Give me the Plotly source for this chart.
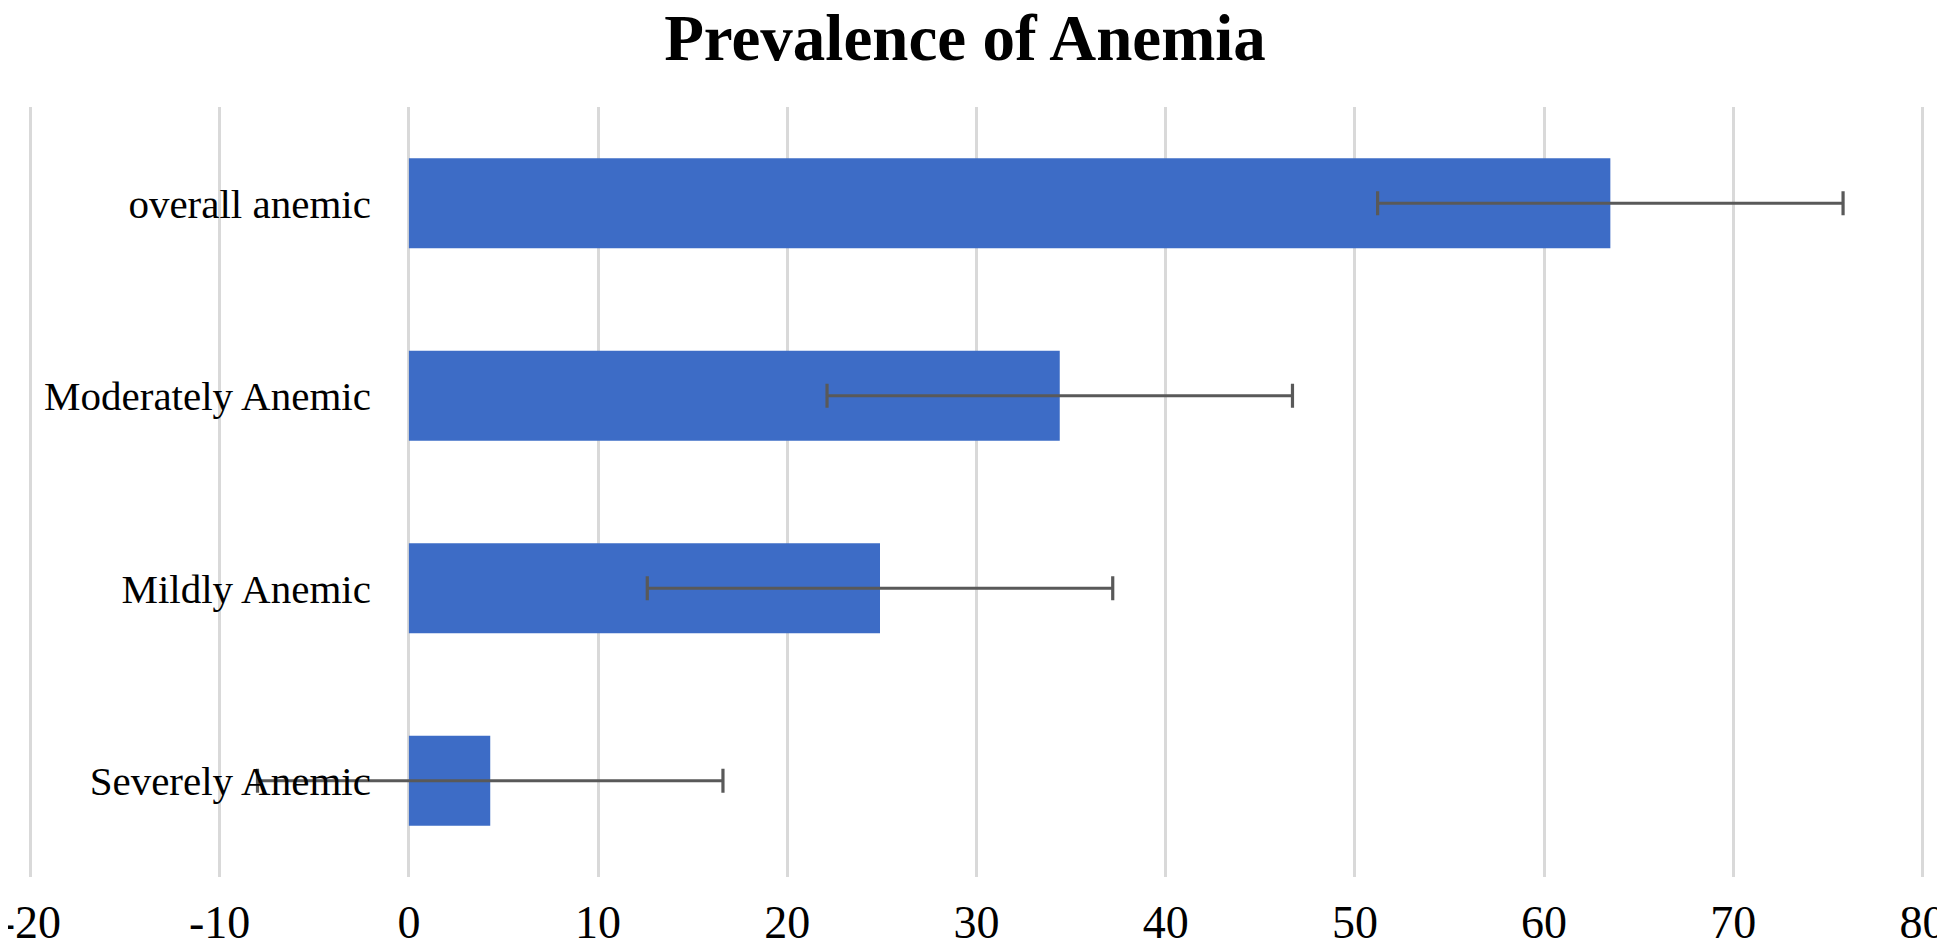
import plotly.graph_objects as go

categories = ["Severely Anemic", "Mildly Anemic", "Moderately Anemic", "overall anemic"]
prevalence = [4.3, 24.9, 34.4, 63.5]
error_margin = [12.3, 12.3, 12.3, 12.3]
x_ticks = [-20, -10, 0, 10, 20, 30, 40, 50, 60, 70, 80]

FONT = "Liberation Serif, Times New Roman, serif"

# The page body adds an 8px margin, so the figure is sized to fill the window exactly.
W, H = 1937, 942

fig = go.Figure()
fig.add_trace(go.Bar(
    y=categories,
    x=prevalence,
    orientation="h",
    marker=dict(color="#3d6cc6", line=dict(width=0)),
    error_x=dict(type="data", array=error_margin, visible=True,
                 color="#595959", thickness=3.2, width=12),
    hoverinfo="x+y",
))

fig.update_layout(
    width=W, height=H,
    paper_bgcolor="white", plot_bgcolor="white",
    margin=dict(l=12.53, r=12.53, t=99, b=73, autoexpand=False),
    bargap=0.532,
    showlegend=False,
    title=dict(text="<b>Prevalence of Anemia</b>",
               font=dict(family=FONT, size=65, color="black"),
               x=957 / W, xref="container", xanchor="center",
               y=1 - 6 / H, yref="container", yanchor="top", pad=dict(t=0, b=0)),
    xaxis=dict(range=[-20.5, 80.5], tickvals=x_ticks, ticktext=[str(v) for v in x_ticks],
               showgrid=True, gridcolor="#d9d9d9", gridwidth=2.5,
               zeroline=False, showline=False, ticks="",
               automargin=False, ticklabeloverflow="allow",
               ticklabelstandoff=14,
               tickfont=dict(family=FONT, size=46, color="black")),
    yaxis=dict(categoryorder="array", categoryarray=categories,
               anchor="free", position=20.5 / 101, showgrid=False, zeroline=False,
               showline=False, ticks="", automargin=False, ticklabelstandoff=38,
               tickfont=dict(family=FONT, size=41, color="black")),
)

fig.write_html("out.html")
